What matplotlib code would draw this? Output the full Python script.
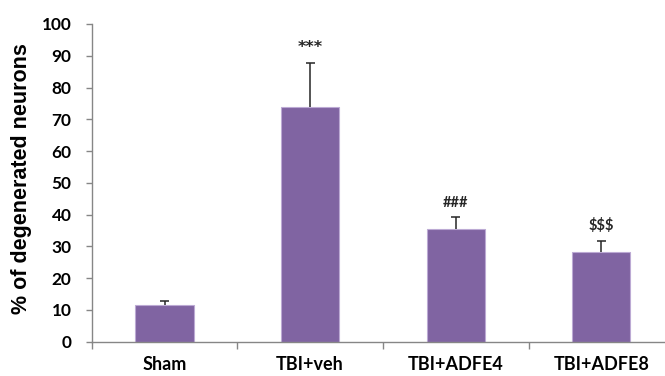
import matplotlib
matplotlib.use("Agg")
import matplotlib.pyplot as plt
import numpy as np

categories = ["Sham", "TBI+veh", "TBI+ADFE4", "TBI+ADFE8"]
values = [11.6, 74.0, 35.4, 28.1]
errors = [1.3, 13.8, 4.0, 3.7]
marks = ["", "***", "###", "$$$"]
mark_y = [None, 92.7, 43.7, 36.5]

plt.rcParams['font.family'] = ['Lato', 'DejaVu Sans']

fig = plt.figure(figsize=(6.65, 3.76), dpi=100)
ax = fig.add_axes([91.7/665, 34.3/376, 582.4/665, 317.7/376])

x = np.arange(len(categories))
vals = np.array(values)
errs = np.array(errors)
ax.bar(x, vals, width=0.40, color="#8064A2", edgecolor="#BCAAD4", linewidth=0.8, zorder=2)
ax.vlines(x, vals, vals + errs, color="#262626", linewidth=1.1, zorder=3)
ax.hlines(vals + errs, x - 0.031, x + 0.031, color="#262626", linewidth=1.1, zorder=3)
for xi, m, my in zip(x, marks, mark_y):
    if m == "***":
        ax.text(xi, my, m, ha="center", va="center", fontsize=11.5, fontweight="bold",
                color="#262626", family=["DejaVu Sans"])
    elif m:
        ax.text(xi, my, m, ha="center", va="center", fontsize=10.5, fontweight="bold",
                color="#262626")

ax.set_xlim(-0.5, len(categories) - 0.5)
ax.set_ylim(0, 100)
ax.set_yticks(np.arange(0, 101, 10))
ax.set_xticks(x)
ax.set_xticklabels(categories, fontsize=13, fontweight="bold")
ax.set_xticks(np.arange(-0.5, len(categories), 1), minor=True)
ax.tick_params(axis="x", which="major", length=0, pad=10)
ax.tick_params(axis="x", which="minor", length=5, width=1, color="#868686", direction="out")
ax.tick_params(axis="y", length=4.5, width=1, color="#868686", labelsize=12.4, pad=10, direction="out")
for lab in ax.get_yticklabels():
    lab.set_fontweight("bold")
for s in ["top", "right"]:
    ax.spines[s].set_visible(False)
for s in ["left", "bottom"]:
    ax.spines[s].set_color("#868686")
    ax.spines[s].set_linewidth(1)

fig.text(22/665, (376 - 178.5)/376, "% of degenerated neurons", rotation=90,
         ha="center", va="center", fontsize=15.5, fontweight="bold",
         family=["Liberation Sans", "DejaVu Sans"])

fig.savefig("out.png", dpi=100)
